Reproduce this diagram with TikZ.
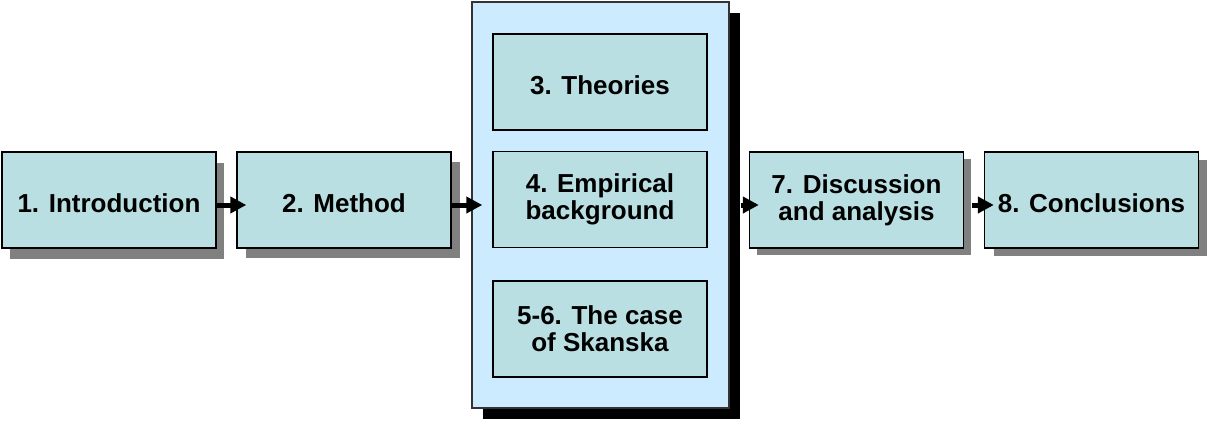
\documentclass[tikz,border=0pt]{standalone}
\usepackage{fontspec}
\setmainfont{Liberation Sans}
\usetikzlibrary{shadows,arrows.meta}
\definecolor{chapfill}{HTML}{B9DFE2}
\definecolor{groupfill}{HTML}{CCEBFF}
\definecolor{shadowgray}{HTML}{808080}
\tikzset{
  chapter/.style={draw=black, line width=1.4pt, fill=chapfill,
    minimum width=214pt, minimum height=96pt, inner sep=0pt,
    align=center, font=\fontsize{26}{27}\selectfont\bfseries},
  oneline/.style={text height=25.4pt, text depth=0pt},
  grayshadow/.style 2 args={general shadow={shadow xshift=#1pt, shadow yshift=-#2pt, fill=shadowgray}},
  group/.style={draw=black!80, line width=1.4pt, fill=groupfill,
    minimum width=257pt, minimum height=406pt, inner sep=0pt,
    general shadow={shadow xshift=11pt, shadow yshift=-11pt, fill=black}},
  flow/.style={line width=5pt, -{Triangle[length=16pt,width=16pt]}}
}
\begin{document}
\begin{tikzpicture}[x=1pt,y=-1pt]
  \useasboundingbox (0,0) rectangle (1207,423);
  % outer chapters
  \node[chapter, oneline, grayshadow={8}{11}] (intro) at (109,200) {1. Introduction};
  \node[chapter, oneline, grayshadow={9}{10}] (method) at (344,200) {2. Method};
  % grouped middle chapters
  \node[group] (core) at (600.5,205) {};
  \node[chapter, oneline] (theo) at (600,82) {3. Theories};
  \node[chapter] (emp) at (600,199.5) {4. Empirical\\background};
  \node[chapter] (case) at (600,329) {5-6. The case\\of Skanska};
  % closing chapters
  \node[chapter, grayshadow={7}{7}] (disc) at (856.5,200) {7. Discussion\\and analysis};
  \node[chapter, oneline, grayshadow={9}{8}] (concl) at (1091.5,200) {8. Conclusions};
  % reading order
  \coordinate (e1) at ([xshift=10pt]method.west |- 0,205);
  \coordinate (e2) at ([xshift=11pt]core.west |- 0,205);
  \coordinate (e3) at ([xshift=10pt]disc.west |- 0,205);
  \coordinate (e4) at ([xshift=10pt]concl.west |- 0,205);
  \draw[flow] (intro.east |- 0,205) -- (e1);
  \draw[flow] (method.east |- 0,205) -- (e2);
  \draw[flow] ([xshift=11pt]core.east |- 0,205) -- (e3);
  \draw[flow] ([xshift=8pt]disc.east |- 0,205) -- (e4);
\end{tikzpicture}
\end{document}
